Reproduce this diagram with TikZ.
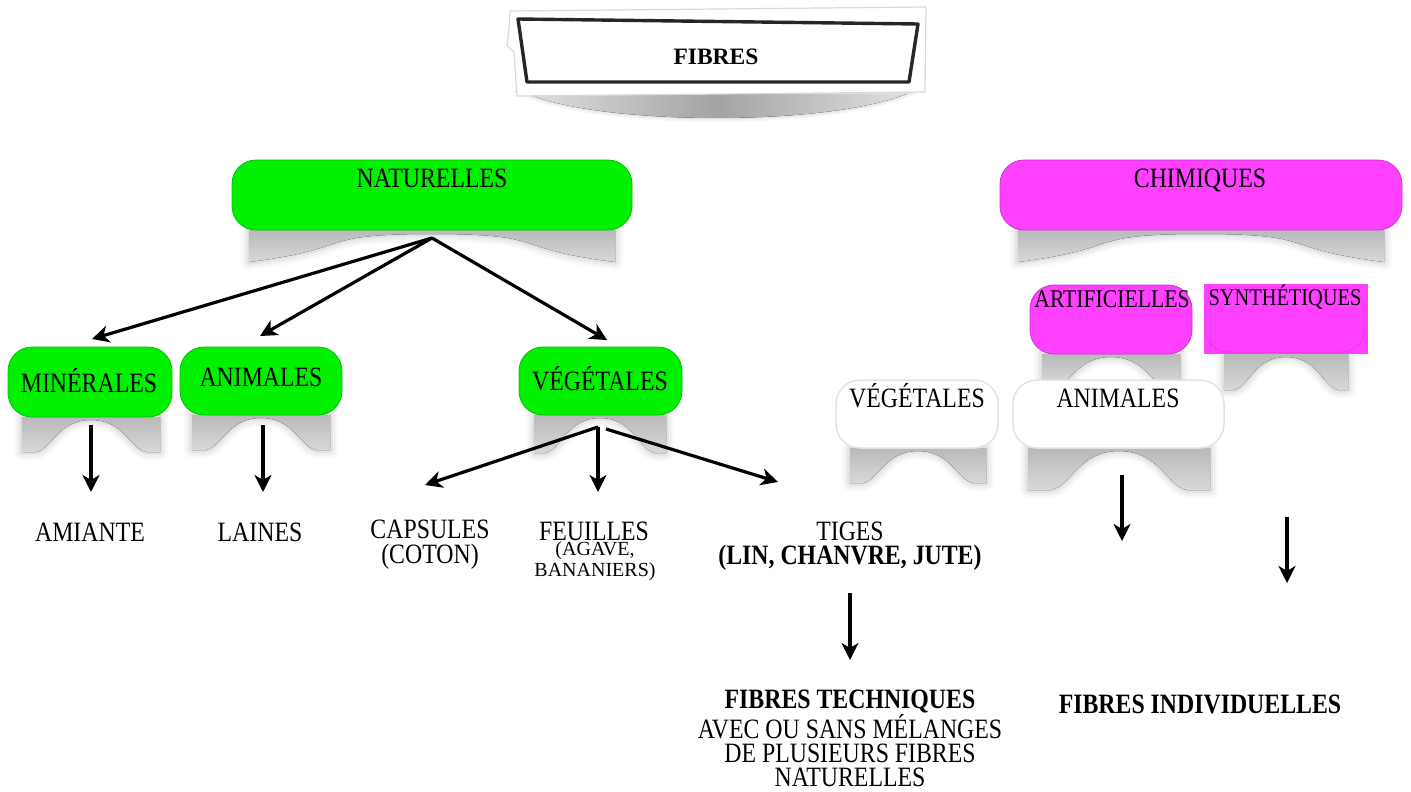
\documentclass[tikz,border=0pt]{standalone}
\usepackage{fontspec}
\setmainfont[FakeStretch=0.85]{Liberation Serif}
\newfontfamily\plainserif{Liberation Serif}
\usetikzlibrary{arrows.meta}
\definecolor{ngreen}{RGB}{0,240,0}
\definecolor{nmag}{RGB}{255,64,255}
\tikzset{
 gbox/.style={fill=ngreen, draw=ngreen!80!black, line width=0.8pt, rounded corners=24pt, inner sep=0pt},
 mbox/.style={fill=nmag, draw=nmag!80!black, line width=0.8pt, rounded corners=24pt, inner sep=0pt},
 wbox/.style={fill=white, draw=gray!22, line width=1.5pt, rounded corners=24pt, inner sep=0pt},
 lab/.style={font=\fontsize{28}{24}\selectfont, inner sep=0pt, anchor=base, align=center},
 smalllab/.style={font=\plainserif\fontsize{20}{17}\selectfont, inner sep=0pt, anchor=base, align=center},
 conn/.style={line width=3.2pt, -{Stealth[length=17pt,width=17pt,inset=5pt]}},
 shadfill/.style={top color=gray!55, bottom color=gray!30},
}
\newcommand{\archshadow}[5]{%
  \def\apath{(#1,#3) -- (#1,{#3+#4}) -- ({(#1+#2)/2-#5},{#3+#4}) .. controls ({(#1+#2)/2-#5*0.7},{#3+#4-4}) and ({(#1+#2)/2-#5*0.6},{#3+3}) .. ({(#1+#2)/2},{#3+3}) .. controls ({(#1+#2)/2+#5*0.6},{#3+3}) and ({(#1+#2)/2+#5*0.7},{#3+#4-4}) .. ({(#1+#2)/2+#5},{#3+#4}) -- (#2,{#3+#4}) -- (#2,#3) -- cycle}%
  \foreach \w/\o in {16/0.05,11/0.07,6/0.09,2/0.1}{\draw[gray, line width=\w pt, opacity=\o, line join=round] \apath;}%
  \fill[shadfill] \apath;}
\newcommand{\wideshadow}[4]{%
  \def\apath{(#1,#3) -- (#1,{#3+#4}) .. controls ({#1+110},{#3+#4-14}) and ({(#1+#2)/2-120},{#3+4}) .. ({(#1+#2)/2},{#3+4}) .. controls ({(#1+#2)/2+120},{#3+4}) and ({#2-110},{#3+#4-14}) .. (#2,{#3+#4}) -- (#2,#3) -- cycle}%
  \foreach \w/\o in {16/0.05,11/0.07,6/0.09,2/0.1}{\draw[gray, line width=\w pt, opacity=\o, line join=round] \apath;}%
  \fill[shadfill] \apath;}
\begin{document}
\begin{tikzpicture}[x=1pt,y=-1pt]
\useasboundingbox (0,0) rectangle (1411,792);
% ---- title ----
\def\tpath{(528,94) .. controls (605,126) and (828,126) .. (906,94) -- cycle}
\foreach \w/\o in {8/0.06,5/0.08,2/0.1}{\draw[gray, line width=\w pt, opacity=\o] \tpath;}
\fill[left color=gray!25, right color=gray!25, middle color=gray!72] \tpath;
\filldraw[fill=white, draw=gray!30, line width=1.2pt, line join=round] (510,11) -- (926,7) -- (925,92) -- (517,96) -- (514,52) -- (507,46) -- (509,30) -- cycle;
\draw[line width=3.4pt, black!85, line join=round] (518,19) -- (918,24) -- (909,82) -- (527,82) -- cycle;
\node[font=\plainserif\bfseries\fontsize{23.5}{26}\selectfont, inner sep=0pt, anchor=base] (ttl) at (716,64) {FIBRES};
% ---- shadows ----
\wideshadow{249}{615}{230}{32}
\wideshadow{1018}{1384}{230}{32}
\archshadow{22}{160}{417}{35}{55}
\archshadow{192}{330}{415}{35}{55}
\archshadow{534}{666}{415}{38}{55}
\archshadow{1042}{1180}{354}{32}{55}
\archshadow{1224}{1348}{354}{36}{52}
\archshadow{850}{986}{448}{35}{55}
\archshadow{1028}{1210}{448}{42}{68}
% ---- boxes ----
\node[gbox, minimum width=400pt, minimum height=70pt] (nat) at (432,195) {};
\node[mbox, minimum width=402pt, minimum height=70pt] (chim) at (1201,195) {};
\node[gbox, minimum width=164pt, minimum height=70pt] (min) at (90,382) {};
\node[gbox, minimum width=162pt, minimum height=68pt] (anim) at (261,381) {};
\node[gbox, minimum width=163pt, minimum height=68pt] (veg) at (600.5,381) {};
\node[mbox, minimum width=162pt, minimum height=69pt] (arti) at (1111,319.5) {};
\node[fill=nmag, minimum width=164pt, minimum height=70pt, inner sep=0pt] (synth) at (1285.5,319) {};
\draw[black, opacity=0.08, line width=1pt, rounded corners=22pt] (1206,287) rectangle (1364,352);
\node[wbox, minimum width=162pt, minimum height=68pt] (vegw) at (917,414) {};
\node[wbox, minimum width=211pt, minimum height=68pt] (animw) at (1118.5,414) {};
% ---- texts ----
\node[lab] (natT) at (432,187) {NATURELLES};
\node[lab] (chimT) at (1200,187) {CHIMIQUES};
\node[lab] (minT) at (89,392) {MINÉRALES};
\node[lab] (animT) at (261,386) {ANIMALES};
\node[lab] (vegT) at (600,390) {VÉGÉTALES};
\node[lab] (vegwT) at (917,407) {VÉGÉTALES};
\node[lab] (animwT) at (1118,407) {ANIMALES};
\node[lab, font=\fontsize{25.5}{24}\selectfont] (artiT) at (1112,307) {ARTIFICIELLES};
\node[lab, font=\fontsize{24}{24}\selectfont] (synthT) at (1285,305) {SYNTHÉTIQUES};
\node[lab] (amiante) at (90,541) {AMIANTE};
\node[lab] (laines) at (260,541) {LAINES};
\node[lab] (caps) at (430,563) {CAPSULES\\[1pt](COTON)};
\node[lab] (feuil) at (594,540) {FEUILLES};
\node[smalllab] (agave) at (595,576) {(AGAVE,\\[1pt]BANANIERS)};
\node[lab] (tiges) at (850,564) {TIGES\\\textbf{(LIN, CHANVRE, JUTE)}};
\node[lab] (tech) at (850,786) {\textbf{FIBRES TECHNIQUES}\\AVEC OU SANS MÉLANGES\\DE PLUSIEURS FIBRES\\NATURELLES};
\node[lab] (indiv) at (1200,713) {\textbf{FIBRES INDIVIDUELLES}};
% ---- connector end points ----
\coordinate (natS) at (432,238);
\coordinate (minN) at (92,339);
\coordinate (animN) at (260,336);
\coordinate (vegN) at (607,340);
\coordinate (minS) at (91,425);
\coordinate (amiN) at (91,492);
\coordinate (animS) at (263,425);
\coordinate (laiN) at (263,492);
\coordinate (vegS) at (598,427);
\coordinate (vegS2) at (606,429);
\coordinate (capN) at (425,485);
\coordinate (feuN) at (598,492);
\coordinate (tigN) at (778,482);
\coordinate (tigS) at (850,593);
\coordinate (techN) at (850,660);
\coordinate (animwS) at (1122,475);
\coordinate (indN) at (1122,541);
\coordinate (synthS) at (1287,517);
\coordinate (synthE) at (1287,583);
% ---- connectors ----
\draw[conn] (natS) -- (minN);
\draw[conn] (natS) -- (animN);
\draw[conn] (natS) -- (vegN);
\draw[conn] (minS) -- (amiN);
\draw[conn] (animS) -- (laiN);
\draw[conn] (vegS) -- (capN);
\draw[conn] (vegS) -- (feuN);
\draw[conn] (vegS2) -- (tigN);
\draw[conn] (tigS) -- (techN);
\draw[conn] (animwS) -- (indN);
\draw[conn] (synthS) -- (synthE);
\end{tikzpicture}
\end{document}
